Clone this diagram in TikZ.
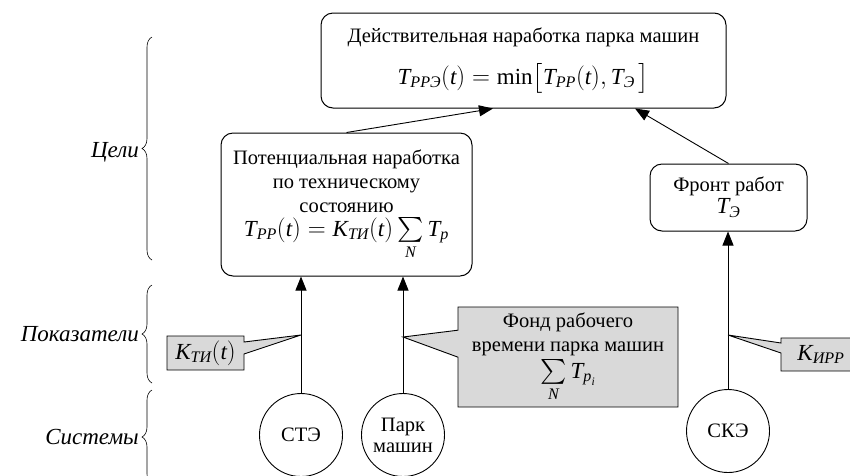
\documentclass[tikz,border=0pt]{standalone}
\usepackage{amsmath}
\usepackage{fontspec}
\setmainfont{Liberation Serif}
\usetikzlibrary{arrows.meta,shapes.callouts,decorations.pathreplacing,calc}
\newcommand\iv[1]{\textit{#1}}
\newcommand\fm[1]{{\fontsize{23}{27}\selectfont$#1$}}
\tikzset{
  box/.style={draw, rounded corners=12pt, line width=1pt, align=center, inner sep=0pt},
  circ/.style={draw, circle, minimum size=83pt, inner sep=0pt, line width=0.9pt, align=center},
  call/.style={rectangle callout, draw, fill=gray!30, line width=0.9pt, inner sep=0pt, align=center},
  arr/.style={-{Triangle[length=14pt,width=11pt]}, line width=0.9pt},
  br/.style={decorate, decoration={brace, amplitude=10pt}, line width=0.6pt},
  lev/.style={anchor=east, font=\fontsize{23}{27}\selectfont\itshape, inner sep=0pt}
}
\begin{document}
\begin{tikzpicture}[x=1pt,y=-1pt, font=\fontsize{20.5}{24}\selectfont]
\useasboundingbox (0,0) rectangle (850,475);
\clip (0,0) rectangle (850,475);

% level braces
\draw[br] (152,260) -- (152,37);
\draw[br] (152,383) -- (152,285);
\draw[br] (152,484) -- (152,390);
\node[lev] (lc) at (139,152) {Цели};
\node[lev] (lp) at (139,334) {Показатели};
\node[lev] (ls) at (139,437) {Системы};

% boxes
\node[box, minimum width=405pt, minimum height=95pt] (top) at (523.5,60.5)
  {Действительная наработка парка машин\\[15pt]
   \fm{\iv{T}_{\iv{PPЭ}}(\iv{t})=\min\bigl[\iv{T}_{\iv{PP}}(\iv{t}),\iv{T}_{\iv{Э}}\,\bigr]}};
\node[box, minimum width=251pt, minimum height=143pt] (mid) at (346.5,204.5)
  {Потенциальная наработка\\по техническому\\состоянию\\
   \fm{\iv{T}_{\iv{PP}}(\iv{t})=\iv{K}_{\iv{ТИ}}(\iv{t})\sum\limits_{\iv{N}}\iv{T}_{\iv{p}}}};
\node[box, minimum width=157pt, minimum height=67pt] (front) at (728.5,197.5)
  {Фронт работ\\[-2pt] \fm{\iv{T}_{\iv{Э}}}};

% systems
\node[circ] (ste) at (301,435) {СТЭ};
\node[circ] (park) at (403,435) {Парк\\[-3pt]машин};
\node[circ] (ske) at (728,431) {СКЭ};

% arrows
\draw[arr] (ste) -- (ste |- mid.south);
\draw[arr] (park) -- (park |- mid.south);
\draw[arr] (ske) -- (ske |- front.south);
\draw[arr] (mid.north) -- ($(top.south)+(-30.5,0)$);
\draw[arr] (front.north) -- ($(top.south)+(111.5,0)$);

% callout pointer points
\path (ste) ++(0,-100) coordinate (pk);
\path (park) ++(0,-98) coordinate (pp);
\path (ske) ++(0,-96) coordinate (ps);

% callouts
\node[call, minimum width=77pt, minimum height=34pt, callout absolute pointer={(pk)}, callout pointer width=12pt] (kti) at (205.5,353)
  {\fm{\iv{K}_{\iv{ТИ}}(\iv{t})}};
\node[call, minimum width=220pt, minimum height=100pt, callout absolute pointer={(pp)}, callout pointer width=27pt] (fond) at (568,357)
  {Фонд рабочего\\времени парка машин\\[3pt] \fm{\sum\limits_{\iv{N}}\iv{T}_{\iv{p}_{\iv{i}}}}};
\node[call, minimum width=80pt, minimum height=33pt, callout absolute pointer={(ps)}, callout pointer width=10pt] (kirr) at (821,354.5)
  {\fm{\iv{K}_{\iv{ИРР}}}};
\end{tikzpicture}
\end{document}
